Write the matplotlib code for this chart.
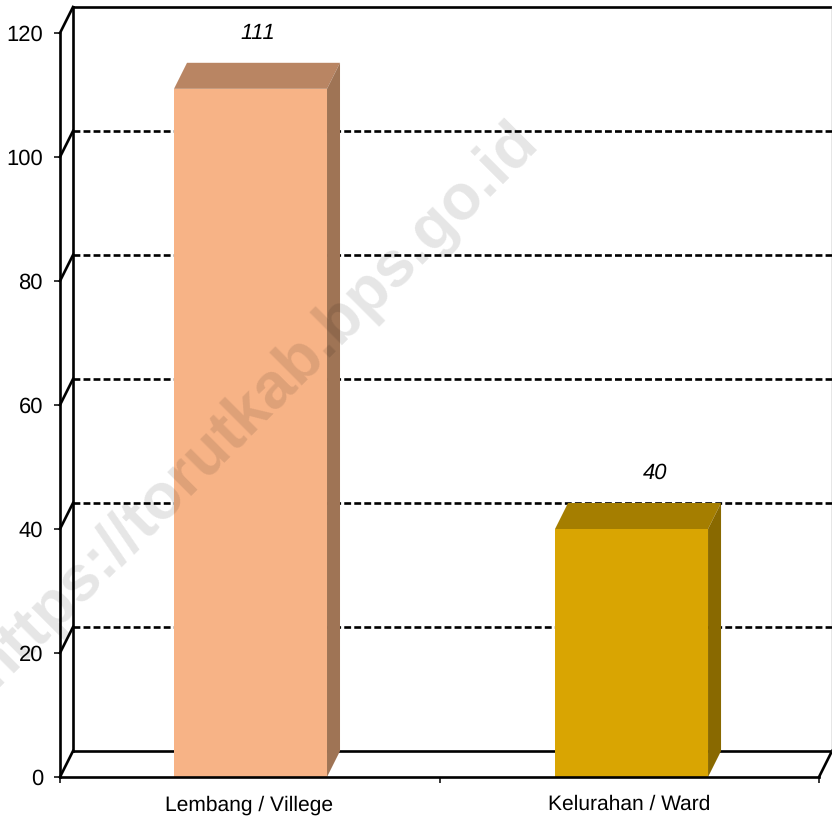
import numpy as np
import matplotlib
matplotlib.use('Agg')
import matplotlib.pyplot as plt
from matplotlib.patches import Polygon

plt.rcParams['font.family'] = ['Liberation Sans', 'DejaVu Sans']
plt.rcParams['text.hinting'] = 'none'
plt.rcParams['text.hinting_factor'] = 1

categories = ['Lembang / Villege', 'Kelurahan / Ward']
values = [111, 40]
y_ticks = [0, 20, 40, 60, 80, 100, 120]

front_colors = ['#F7B386', '#D9A502']
top_colors = ['#B98563', '#A57E00']
side_colors = ['#9F7455', '#896900']
label_shift = [7.5, 23.5]

W, H = 832, 816
fig = plt.figure(figsize=(W / 100, H / 100), dpi=100)
ax = fig.add_axes([60 / W, 1 - 777 / H, 759 / W, 744 / H])

# one category is 381 px wide, one y unit 6.2 px
ax.set_xlim(-0.5, 1.492)
ax.set_ylim(0, 120)
dx = 13 / 381
dy = 26 / 6.2
bar_w = 153 / 381
x_right = 1.492
lw = 1.9

# back wall and floor
ax.plot([-0.5 + dx] * 2, [dy, 120 + dy], color='black', lw=lw, clip_on=False, zorder=1)
ax.plot([-0.5 + dx, x_right + dx], [120 + dy] * 2, color='black', lw=lw, clip_on=False, zorder=1)
ax.plot([-0.5 + dx, x_right + dx], [dy, dy], color='black', lw=lw, clip_on=False, zorder=1)
ax.plot([x_right, x_right + dx], [0, dy], color='black', lw=lw, clip_on=False, zorder=1)
ax.plot([x_right + dx - 0.001] * 2, [dy, 120 + dy], color='#808080', lw=1, clip_on=False, zorder=1)

for t in y_ticks:
    ax.plot([-0.5, -0.5 + dx], [t, t + dy], color='black', lw=lw, clip_on=False, zorder=1)
    if 0 < t < 120:
        ax.plot([-0.5 + dx, x_right + dx], [t + dy, t + dy], color='black', lw=lw,
                linestyle=(0, (2.6, 1.2)), clip_on=False, zorder=1)

# bars with top and side faces
for i, v in enumerate(values):
    l = i - bar_w / 2
    r = i + bar_w / 2
    ax.bar(i, v, width=bar_w, color=front_colors[i], zorder=3)
    ax.add_patch(Polygon([(l, v), (r, v), (r + dx, v + dy), (l + dx, v + dy)],
                         closed=True, facecolor=top_colors[i], edgecolor='none',
                         clip_on=False, zorder=3))
    ax.add_patch(Polygon([(r, 0), (r + dx, dy), (r + dx, v + dy), (r, v)],
                         closed=True, facecolor=side_colors[i], edgecolor='none',
                         clip_on=False, zorder=3))
    ax.annotate(str(v), (i, v), xytext=(label_shift[i] * 0.72, 40), textcoords='offset points',
                ha='center', va='center', fontsize=15.8, style='italic', color='black',
                annotation_clip=False, zorder=4)

for s in ['top', 'right']:
    ax.spines[s].set_visible(False)
for s in ['left', 'bottom']:
    ax.spines[s].set_linewidth(lw)
    ax.spines[s].set_zorder(5)

ax.set_yticks(y_ticks)
ax.set_xticks([-0.5, 0.496, x_right])
ax.set_xticklabels([])
ax.set_xticks([-0.003, 0.995], categories, minor=True)
ax.tick_params(axis='y', length=4.3, width=1.1, labelsize=15.8, pad=8)
ax.tick_params(axis='x', which='major', length=4.5, width=1.1)
ax.tick_params(axis='x', which='minor', length=0, labelsize=15.4, pad=13)

# site watermark across the chart
fig.text(255 / W, 1 - 404 / H, 'https://torutkab.bps.go.id', fontsize=46, fontweight='bold',
         color='black', alpha=0.1, rotation=45, rotation_mode='anchor',
         ha='center', va='center', zorder=10)

fig.savefig('out.png', dpi=100)
